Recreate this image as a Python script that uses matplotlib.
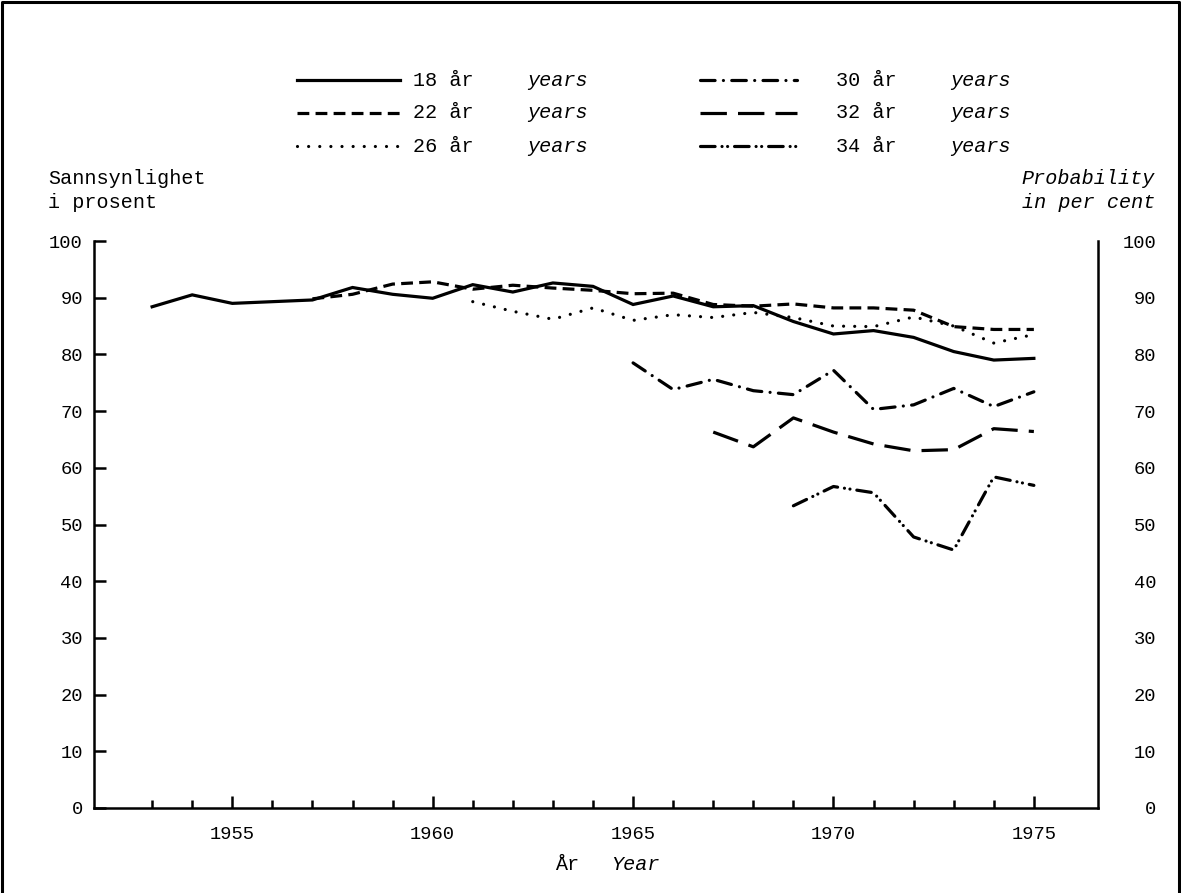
import matplotlib
matplotlib.use("Agg")
import matplotlib.pyplot as plt
from matplotlib.lines import Line2D
from matplotlib.ticker import MultipleLocator

plt.rcParams['font.family'] = ['Liberation Mono', 'DejaVu Sans Mono']
plt.rcParams['lines.scale_dashes'] = False

# ---- data ----
years_18 = list(range(1953, 1976))
p18 = [88.4, 90.5, 89.0, 89.3, 89.6, 91.8, 90.6, 89.9, 92.3, 91.0, 92.6, 92.0,
       88.8, 90.3, 88.4, 88.6, 85.8, 83.6, 84.2, 83.0, 80.5, 79.0, 79.3]
years_22 = list(range(1957, 1976))
p22 = [89.8, 90.6, 92.4, 92.8, 91.5, 92.2, 91.7, 91.3, 90.7, 90.8, 88.8, 88.5,
       88.9, 88.2, 88.2, 87.8, 84.9, 84.4, 84.4]
years_26 = list(range(1961, 1976))
p26 = [89.3, 87.6, 86.2, 88.2, 86.0, 87.0, 86.5, 87.4, 86.5, 85.0, 84.9, 86.6,
       85.0, 82.0, 83.5]
years_30 = list(range(1965, 1976))
p30 = [78.5, 73.8, 75.6, 73.6, 72.9, 77.2, 70.3, 71.1, 74.0, 70.8, 73.4]
years_32 = list(range(1967, 1976))
p32 = [66.3, 63.7, 68.8, 66.3, 64.2, 63.0, 63.2, 66.9, 66.4]
years_34 = list(range(1969, 1976))
p34 = [53.3, 56.7, 55.6, 47.8, 45.5, 58.4, 56.9]

ages = ["18", "22", "26", "30", "32", "34"]
series = [(years_18, p18), (years_22, p22), (years_26, p26),
          (years_30, p30), (years_32, p32), (years_34, p34)]

yticks = list(range(0, 101, 10))
xlabels = [1955, 1960, 1965, 1970, 1975]

# ---- styles ----
styles = [
    dict(linestyle='-'),
    dict(dashes=(8.5, 4.5)),
    dict(dashes=(0.01, 8.0), dash_capstyle='round'),
    dict(dashes=(10.5, 6.0, 0.01, 6.0), dash_capstyle='round'),
    dict(dashes=(19, 8)),
    dict(dashes=(10.5, 5.0, 0.01, 4.0, 0.01, 5.0), dash_capstyle='round'),
]
LW = 2.3

fig = plt.figure(figsize=(11.81, 8.93), dpi=100)
ax = fig.add_axes([94/1181, 85/893, (1098-94)/1181, (808-241)/893])

for (xs, ys), st in zip(series, styles):
    ax.plot(xs, ys, color='black', lw=LW, solid_joinstyle='miter', **st)

ax.set_xlim(1951.55, 1976.6)
ax.set_ylim(0, 100)
ax.spines['top'].set_visible(False)
for s in ax.spines.values():
    s.set_linewidth(1.8)

ax.set_xticks(xlabels)
ax.set_xticks([y for y in range(1953, 1976)], minor=True)
ax.tick_params(axis='x', which='major', direction='in', length=9, width=1.8,
               pad=13, labelsize=13.5)
ax.tick_params(axis='x', which='minor', direction='in', length=5.5, width=1.8)
ax.set_yticks(yticks)
ax.tick_params(axis='y', which='major', direction='in', length=8.5, width=1.8,
               pad=8, labelsize=13.5, left=True, right=True,
               labelleft=True, labelright=False)

ax2 = ax.twinx()
ax2.set_ylim(0, 100)
ax2.set_yticks(yticks)
for s in ax2.spines.values():
    s.set_visible(False)
ax2.tick_params(axis='y', direction='in', length=0, pad=42, labelsize=13.5)
for lab in ax2.get_yticklabels():
    lab.set_horizontalalignment('right')

# axis texts
fig.text(48/1181, 1 - 178/893, "Sannsynlighet", fontsize=14.5, va='center', ha='left')
fig.text(48/1181, 1 - 202/893, "i prosent", fontsize=14.5, va='center', ha='left')
fig.text(1155/1181, 1 - 178/893, "Probability", fontsize=14.5, va='center', ha='right',
         style='italic')
fig.text(1155/1181, 1 - 202/893, "in per cent", fontsize=14.5, va='center', ha='right',
         style='italic')
fig.text(555/1181, 1 - 865/893, "År", fontsize=14.5, va='center', ha='left')
fig.text(611/1181, 1 - 865/893, "Year", fontsize=14.5, va='center', ha='left', style='italic')

# legend (manual)
rows_y = [80, 113, 146]
cols = [(297, 400, 413, 527), (700, 797, 836, 950)]
for i, (age, st) in enumerate(zip(ages, styles)):
    c = cols[i // 3]
    y = 1 - rows_y[i % 3] / 893
    fig.add_artist(Line2D([c[0]/1181, c[1]/1181], [y, y], color='black', lw=LW, **st))
    fig.text(c[2]/1181, y, f"{age} år", fontsize=14.5, va='center', ha='left')
    fig.text(c[3]/1181, y, "years", fontsize=14.5, va='center', ha='left', style='italic')

# outer frame (left, top, right)
fig.add_artist(Line2D([2/1181, 2/1181, 1179/1181, 1179/1181],
                      [0, 1 - 2/893, 1 - 2/893, 0], color='black', lw=2.2))

fig.savefig("out.png", dpi=100)
